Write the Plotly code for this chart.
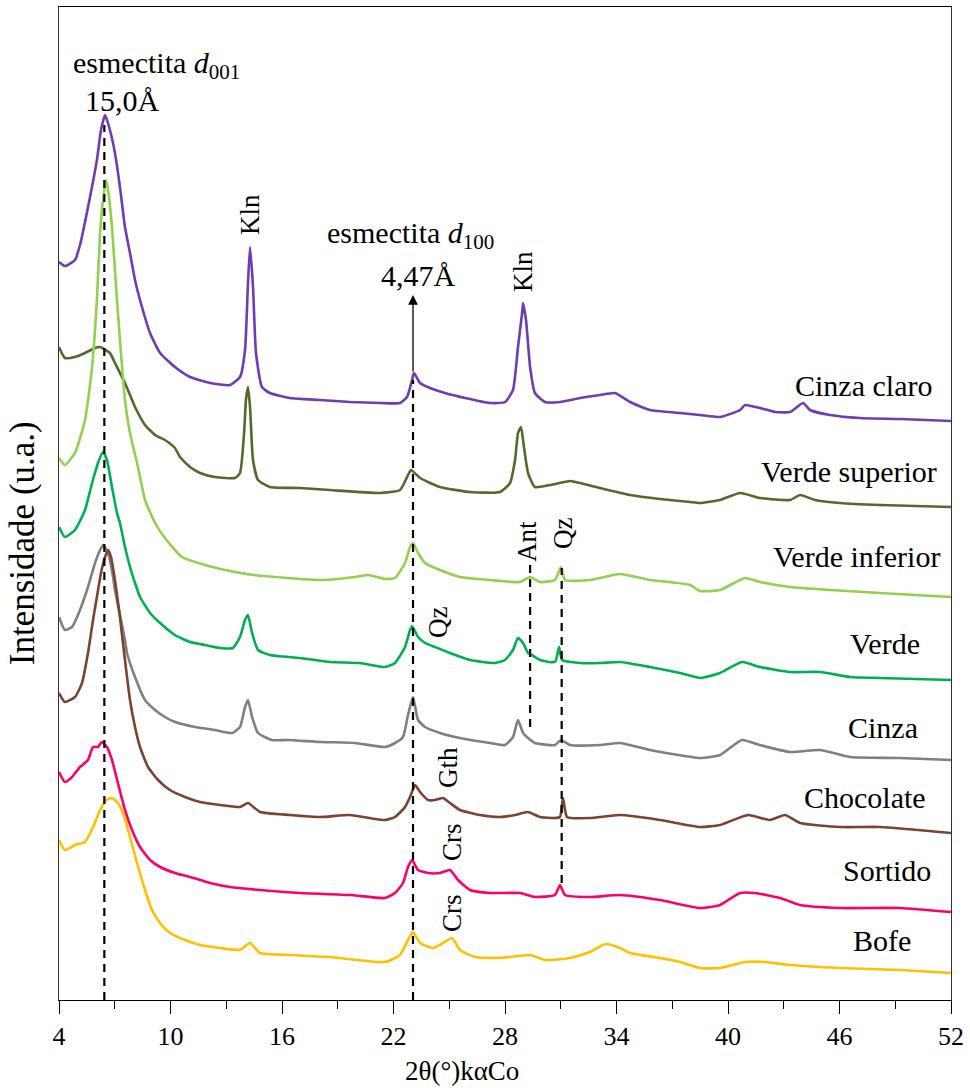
import plotly.graph_objects as go

# ---- Difratogramas (intensidade empilhada, u.a.) ----
cinza_claro_2t = [4.00, 4.32, 4.86, 5.13, 5.67, 6.04, 6.26, 6.48, 6.74, 7.01, 7.28, 7.55, 7.82, 8.09, 8.36, 8.90, 9.44, 10.24, 11.05, 12.13, 13.20, 13.74, 14.01, 14.17, 14.28, 14.44, 14.60, 14.92, 15.35, 16.43, 18.05, 19.66, 21.27, 22.35, 22.73, 23.00, 23.10, 23.43, 23.96, 24.77, 25.85, 27.19, 28.00, 28.43, 28.70, 28.92, 28.97, 29.13, 29.35, 29.61, 30.15, 30.96, 32.04, 33.11, 33.92, 34.73, 35.80, 37.42, 38.49, 39.57, 40.65, 40.92, 41.72, 42.53, 43.34, 44.04, 44.41, 45.49, 47.10, 49.26, 52.00]
cinza_claro_int = [738, 734, 740, 755, 803, 840, 870, 885, 870, 847, 813, 773, 747, 720, 700, 667, 647, 633, 623, 617, 615, 623, 650, 717, 753, 713, 647, 613, 607, 602, 600, 598, 597, 597, 603, 620, 627, 617, 612, 607, 602, 597, 598, 610, 653, 687, 697, 680, 633, 607, 598, 598, 602, 605, 607, 598, 590, 587, 585, 583, 590, 595, 592, 588, 588, 597, 590, 585, 582, 581, 579]

verde_sup_2t = [4.00, 4.32, 4.86, 5.40, 5.94, 6.21, 6.74, 7.01, 7.55, 8.09, 8.63, 9.17, 9.70, 10.24, 10.51, 11.05, 11.59, 12.39, 13.47, 13.74, 13.96, 14.06, 14.17, 14.28, 14.44, 14.71, 15.35, 16.97, 18.58, 21.27, 22.35, 22.73, 22.94, 23.43, 24.50, 26.12, 27.73, 28.27, 28.54, 28.70, 28.86, 29.02, 29.24, 29.61, 30.42, 31.50, 32.04, 33.11, 34.73, 36.34, 37.96, 38.49, 39.57, 40.65, 41.72, 43.34, 43.88, 44.68, 46.03, 48.18, 52.00]
verde_sup_int = [653, 642, 643, 647, 652, 653, 647, 637, 617, 593, 575, 565, 560, 552, 543, 533, 527, 523, 522, 527, 567, 600, 613, 593, 540, 520, 513, 512, 510, 507, 510, 523, 530, 522, 513, 508, 508, 517, 540, 567, 573, 553, 527, 513, 515, 519, 517, 512, 505, 501, 498, 497, 500, 507, 502, 500, 505, 500, 497, 495, 493]

verde_inf_2t = [4.00, 4.32, 4.86, 5.40, 5.78, 6.04, 6.21, 6.37, 6.53, 6.64, 6.85, 7.07, 7.28, 7.55, 7.82, 8.25, 8.63, 9.17, 9.70, 10.62, 11.86, 13.47, 14.49, 16.32, 18.15, 19.93, 20.63, 21.54, 22.08, 22.62, 22.89, 23.05, 23.32, 23.70, 24.50, 25.58, 27.19, 28.81, 29.35, 29.88, 30.69, 31.01, 31.23, 32.57, 34.19, 35.80, 37.96, 38.49, 39.57, 40.92, 41.72, 43.34, 45.49, 48.18, 52.00]
verde_inf_int = [542, 535, 547, 580, 633, 700, 767, 800, 820, 810, 773, 713, 660, 600, 567, 533, 500, 477, 462, 443, 435, 428, 425, 422, 420, 423, 425, 421, 422, 437, 453, 457, 447, 437, 430, 423, 420, 418, 423, 418, 420, 433, 420, 420, 426, 420, 415, 409, 410, 422, 418, 413, 410, 407, 403]

verde_2t = [4.00, 4.32, 4.86, 5.40, 5.78, 6.10, 6.37, 6.58, 6.85, 7.12, 7.28, 7.55, 7.82, 8.09, 8.36, 8.90, 9.44, 10.24, 11.05, 11.86, 12.66, 13.36, 13.74, 14.01, 14.17, 14.39, 14.71, 15.35, 16.97, 18.58, 20.20, 21.54, 22.08, 22.62, 22.89, 23.00, 23.32, 23.70, 24.23, 25.04, 26.12, 27.46, 28.00, 28.43, 28.70, 28.97, 29.24, 29.45, 29.88, 30.69, 30.91, 31.07, 32.04, 33.11, 34.19, 35.80, 37.42, 38.49, 39.57, 40.75, 41.72, 43.34, 44.95, 46.57, 48.18, 52.00]
verde_int = [473, 463, 470, 490, 517, 537, 548, 540, 513, 487, 477, 453, 433, 417, 403, 387, 377, 365, 358, 355, 352, 352, 363, 380, 385, 367, 350, 345, 342, 338, 337, 333, 337, 353, 370, 374, 363, 357, 353, 347, 340, 337, 340, 350, 362, 357, 347, 345, 340, 338, 353, 340, 337, 337, 338, 333, 327, 322, 327, 338, 333, 328, 328, 323, 322, 320]

cinza_2t = [4.00, 4.32, 4.70, 5.13, 5.56, 5.94, 6.21, 6.37, 6.64, 6.91, 7.01, 7.28, 7.55, 7.66, 8.09, 8.63, 9.17, 9.70, 10.24, 11.32, 12.39, 13.31, 13.74, 14.01, 14.17, 14.39, 14.71, 15.46, 16.32, 18.15, 19.93, 21.54, 22.08, 22.51, 22.78, 23.05, 23.32, 23.70, 24.50, 25.58, 27.19, 28.00, 28.43, 28.70, 28.97, 29.24, 29.61, 30.69, 31.01, 31.50, 33.11, 34.19, 35.80, 38.49, 39.57, 40.75, 41.72, 43.34, 44.95, 46.57, 49.26, 52.00]
cinza_int = [383, 370, 373, 390, 413, 437, 450, 455, 447, 423, 410, 385, 360, 347, 323, 300, 290, 283, 278, 273, 270, 267, 273, 293, 300, 283, 267, 260, 260, 258, 257, 253, 257, 263, 285, 303, 280, 273, 267, 262, 257, 255, 263, 280, 267, 262, 257, 255, 260, 255, 255, 257, 250, 242, 245, 260, 255, 248, 250, 243, 242, 240]

chocolate_2t = [4.00, 4.32, 4.86, 5.24, 5.56, 5.83, 6.04, 6.26, 6.48, 6.64, 6.80, 7.01, 7.28, 7.55, 7.82, 8.09, 8.36, 8.79, 9.33, 9.97, 10.78, 11.59, 12.66, 13.74, 14.17, 14.82, 16.43, 18.05, 19.66, 21.54, 22.08, 22.62, 22.89, 23.16, 23.43, 23.86, 24.23, 24.66, 25.04, 25.58, 26.66, 27.73, 28.54, 29.24, 29.88, 30.69, 30.96, 31.12, 31.34, 32.57, 34.19, 36.34, 38.49, 39.57, 41.08, 42.26, 43.07, 43.88, 46.03, 48.18, 52.00]
chocolate_int = [307, 298, 303, 317, 347, 380, 403, 427, 443, 450, 443, 420, 383, 340, 300, 273, 253, 233, 220, 210, 203, 198, 195, 193, 197, 188, 185, 183, 185, 180, 183, 193, 203, 215, 208, 200, 200, 202, 197, 190, 185, 183, 185, 188, 183, 182, 183, 202, 183, 182, 185, 180, 173, 175, 185, 180, 185, 177, 173, 173, 167]

sortido_2t = [4.00, 4.32, 4.70, 5.13, 5.56, 5.83, 6.10, 6.31, 6.58, 6.85, 7.17, 7.55, 7.93, 8.36, 8.90, 9.44, 10.24, 11.05, 12.13, 13.20, 14.82, 16.97, 19.66, 21.54, 22.08, 22.51, 22.78, 23.00, 23.32, 23.86, 24.50, 25.04, 25.47, 26.12, 27.19, 28.81, 29.61, 30.69, 30.96, 31.23, 32.57, 34.19, 36.34, 38.49, 39.57, 40.65, 41.45, 42.80, 43.88, 46.03, 49.26, 52.00]
sortido_int = [228, 218, 223, 233, 240, 253, 253, 258, 253, 240, 217, 190, 170, 153, 140, 133, 127, 123, 117, 113, 110, 107, 105, 102, 107, 117, 133, 140, 130, 127, 127, 130, 120, 110, 107, 107, 103, 105, 115, 105, 103, 105, 100, 92, 95, 107, 107, 102, 95, 92, 92, 88]

bofe_2t = [4.00, 4.32, 4.86, 5.40, 5.83, 6.21, 6.53, 6.85, 7.17, 7.44, 7.82, 8.20, 8.63, 9.00, 9.44, 9.97, 10.78, 11.59, 12.66, 13.74, 14.28, 14.82, 16.43, 18.58, 21.54, 22.35, 22.78, 23.05, 23.43, 24.13, 24.66, 25.15, 25.58, 26.39, 27.73, 29.35, 30.15, 31.50, 32.57, 33.40, 34.19, 34.73, 36.34, 37.42, 38.49, 39.57, 40.92, 42.00, 43.34, 46.03, 49.26, 52.00]
bofe_int = [160, 150, 155, 158, 173, 190, 200, 202, 197, 187, 163, 137, 110, 90, 77, 67, 60, 55, 52, 50, 57, 47, 45, 43, 38, 45, 60, 68, 57, 52, 57, 62, 50, 43, 42, 45, 40, 42, 48, 56, 52, 47, 42, 38, 32, 32, 38, 38, 35, 32, 30, 27]

amostras = ["Cinza claro", "Verde superior", "Verde inferior", "Verde",
            "Cinza", "Chocolate", "Sortido", "Bofe"]
cores = ["#6F3DB0", "#526A2C", "#92D050", "#00B050",
         "#808080", "#7A4430", "#FF0066", "#FFC000"]
series_2t = [cinza_claro_2t, verde_sup_2t, verde_inf_2t, verde_2t,
             cinza_2t, chocolate_2t, sortido_2t, bofe_2t]
series_int = [cinza_claro_int, verde_sup_int, verde_inf_int, verde_int,
              cinza_int, chocolate_int, sortido_int, bofe_int]

# posição dos rótulos de cada amostra (2θ, intensidade)
rotulo_2t = [47.27, 46.51, 46.94, 48.45, 48.34, 47.37, 48.56, 48.29]
rotulo_int = [615, 529, 444, 357, 273, 203, 130, 60]

# reflexões indicadas
D001 = 6.44
D100 = 23.05
ANT = 29.35
QZ = 31.05

x_ticks = [4, 10, 16, 22, 28, 34, 40, 46, 52]

SERIF = "Liberation Serif"

fig = go.Figure()
for nome, cor, xs, ys in zip(amostras, cores, series_2t, series_int):
    fig.add_trace(go.Scatter(x=xs, y=ys, mode="lines", name=nome,
                             line=dict(color=cor, width=2.6, shape="spline",
                                       smoothing=0.5),
                             showlegend=False))

# linhas tracejadas de referência
dash = "8px,6px"
for x0, y0, y1 in [(D001, 0, 875), (D100, 0, 620), (ANT, 273, 435), (QZ, 117, 432)]:
    fig.add_shape(type="line", xref="x", yref="y", x0=x0, x1=x0, y0=y0, y1=y1,
                  line=dict(color="black", width=2.2, dash=dash))

annotations = []
# seta da d100
annotations.append(dict(x=D100, y=705, ax=D100, ay=627, xref="x", yref="y",
                        axref="x", ayref="y", text="", showarrow=True,
                        arrowhead=2, arrowsize=1.5, arrowwidth=1.3,
                        arrowcolor="black", standoff=0))

for nome, xr, yr in zip(amostras, rotulo_2t, rotulo_int):
    annotations.append(dict(x=xr, y=yr, xref="x", yref="y", text=nome,
                            showarrow=False, xanchor="center", yanchor="middle",
                            font=dict(family=SERIF, size=30, color="black")))

textos = [
    ("esmectita <i>d</i><sub>001</sub>", 9.22, 935, 0, 30),
    ("15,0Å", 7.39, 900, 0, 30),
    ("esmectita <i>d</i><sub>100</sub>", 22.89, 765, 0, 30),
    ("4,47Å", 23.32, 725, 0, 30),
    ("Kln", 14.28, 785, -90, 27),
    ("Kln", 28.97, 728, -90, 27),
    ("Ant", 29.18, 459, -90, 27),
    ("Qz", 31.12, 467, -90, 27),
    ("Qz", 24.39, 378, -90, 27),
    ("Gth", 24.93, 233, -90, 27),
    ("Crs", 25.15, 158, -90, 27),
    ("Crs", 25.15, 87, -90, 27),
]
for txt, xt, yt, ang, sz in textos:
    annotations.append(dict(x=xt, y=yt, xref="x", yref="y", text=txt,
                            showarrow=False, textangle=ang,
                            xanchor="center", yanchor="middle",
                            font=dict(family=SERIF, size=sz, color="black")))

annotations.append(dict(x=-0.0415, y=0.46, xref="paper", yref="paper",
                        text="Intensidade (u.a.)", textangle=-90, showarrow=False,
                        xanchor="center", yanchor="middle",
                        font=dict(family=SERIF, size=35, color="black")))
annotations.append(dict(x=0.452, y=-0.072, xref="paper", yref="paper",
                        text="2θ(°)kαCo", showarrow=False,
                        xanchor="center", yanchor="middle",
                        font=dict(family=SERIF, size=27, color="black")))

fig.update_layout(
    width=970, height=1088,
    margin=dict(l=59, r=19, t=7, b=88),
    paper_bgcolor="white", plot_bgcolor="white",
    font=dict(family=SERIF, color="black"),
    annotations=annotations,
    xaxis=dict(range=[4, 52], tickmode="array", tickvals=x_ticks,
               ticktext=[str(v) for v in x_ticks],
               ticks="outside", ticklen=13, tickwidth=1, tickcolor="black",
               minor=dict(ticks="outside", ticklen=8, tickwidth=1,
                          tickcolor="black", dtick=3, tick0=4),
               showline=True, linecolor="black", linewidth=1.2, mirror=True,
               showgrid=False, zeroline=False,
               tickfont=dict(family=SERIF, size=26, color="black")),
    yaxis=dict(range=[0, 993], showticklabels=False, ticks="",
               showline=True, linecolor="#333333", linewidth=1.2, mirror=True,
               showgrid=False, zeroline=False),
)

fig.write_html("out.html")
